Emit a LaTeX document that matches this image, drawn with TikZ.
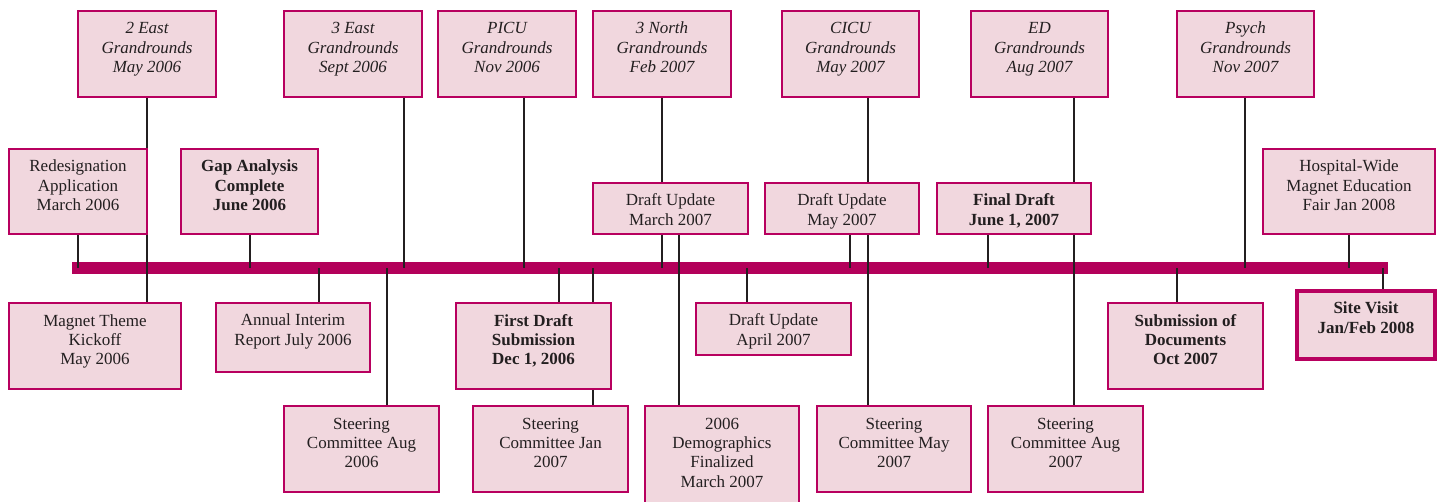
\documentclass[tikz,border=0pt]{standalone}
\usepackage{fontspec}
\setmainfont{Liberation Serif}
\definecolor{boxfill}{HTML}{F1D7DE}
\definecolor{boxedge}{HTML}{B8005F}
\definecolor{barcol}{HTML}{B3005A}
\definecolor{linecol}{HTML}{231F20}
\pgfdeclarelayer{barlayer}
\pgfdeclarelayer{linelayer}
\pgfsetlayers{barlayer,linelayer,main}
\tikzset{
  boxbase/.style={rectangle, fill=boxfill, draw=boxedge, inner sep=0pt, outer sep=0pt},
  plain/.style={line width=1.5pt},
  strong/.style={line width=2.2pt},
  heavy/.style={line width=3.6pt},
  txt/.style={inner sep=0pt, align=center, text=linecol, font=\fontsize{17}{19.4}\selectfont},
  rm/.style={txt},
  it/.style={txt, font=\fontsize{17}{19.4}\selectfont\itshape},
  bf/.style={txt, font=\fontsize{17}{19.4}\selectfont\bfseries},
  conn/.style={draw=linecol, line width=1.4pt},
  barstyle/.style={rectangle, fill=barcol, inner sep=0pt, outer sep=0pt}
}
% #1 name, #2 box style, #3 text style, #4 x1, #5 y1, #6 x2, #7 y2, #8 lines, #9 text
\newcommand\evbox[9]{%
  \node[boxbase,#2,minimum width={#6-#4},minimum height={#7-#5}] (#1) at ({(#4+#6)/2},{(#5+#7)/2}) {};
  \pgfmathsetmacro\evshift{23+(#8-1)*19.4}%
  \node[#3, anchor=base] (#1-t) at ([yshift=-\evshift pt]#1.north) {#9};
}
\begin{document}
\begin{tikzpicture}[x=1pt,y=-1pt]
\useasboundingbox (0,0) rectangle (1437,502);
\begin{pgfonlayer}{barlayer}
  \node[barstyle, minimum width=1316, minimum height=12] (bar) at (730,268) {};
\end{pgfonlayer}
% top row: grandrounds
\evbox{e2}{plain}{it}{78}{11}{216}{97}{3}{2 East\\Grandrounds\\May 2006}
\evbox{e3}{plain}{it}{284}{11}{422}{97}{3}{3 East\\Grandrounds\\Sept 2006}
\evbox{picu}{plain}{it}{438}{11}{576}{97}{3}{PICU\\Grandrounds\\Nov 2006}
\evbox{n3}{plain}{it}{593}{11}{731}{97}{3}{3 North\\Grandrounds\\Feb 2007}
\evbox{cicu}{plain}{it}{782}{11}{919}{97}{3}{CICU\\Grandrounds\\May 2007}
\evbox{ed}{plain}{it}{971}{11}{1108}{97}{3}{ED\\Grandrounds\\Aug 2007}
\evbox{ps}{plain}{it}{1177}{11}{1314}{97}{3}{Psych\\Grandrounds\\Nov 2007}
% second row above bar
\evbox{redes}{plain}{rm}{9}{149}{147}{234}{3}{Redesignation\\Application\\March 2006}
\evbox{gap}{strong}{bf}{181}{149}{318}{234}{3}{Gap Analysis\\Complete\\June 2006}
\evbox{dum}{plain}{rm}{593}{183}{748}{234}{2}{Draft Update\\March 2007}
\evbox{dumay}{plain}{rm}{765}{183}{919}{234}{2}{Draft Update\\May 2007}
\evbox{fin}{plain}{bf}{937}{183}{1091}{234}{2}{Final Draft\\June 1, 2007}
\evbox{hw}{plain}{rm}{1263}{149}{1435}{234}{3}{Hospital-Wide\\Magnet Education\\Fair Jan 2008}
% first row below bar
\evbox{kick}{plain}{rm}{9}{303}{181}{389}{3}{Magnet Theme\\Kickoff\\May 2006}
\evbox{ann}{plain}{rm}{216}{303}{370}{372}{2}{Annual Interim\\Report July 2006}
\evbox{fd}{plain}{bf}{456}{303}{611}{389}{3}{First Draft\\Submission\\Dec 1, 2006}
\evbox{dua}{plain}{rm}{696}{303}{851}{355}{2}{Draft Update\\April 2007}
\evbox{sub}{plain}{bf}{1108}{303}{1263}{389}{3}{Submission of\\Documents\\Oct 2007}
\evbox{sv}{heavy}{bf}{1297}{291}{1435}{359}{2}{Site Visit\\Jan/Feb 2008}
% second row below bar
\evbox{sa6}{plain}{rm}{284}{406}{439}{492}{3}{Steering\\Committee Aug\\2006}
\evbox{sj}{plain}{rm}{473}{406}{628}{492}{3}{Steering\\Committee Jan\\2007}
\evbox{demo}{plain}{rm}{645}{406}{799}{504}{4}{2006\\Demographics\\Finalized\\March 2007}
\evbox{sm}{plain}{rm}{817}{406}{971}{492}{3}{Steering\\Committee May\\2007}
\evbox{sa7}{plain}{rm}{988}{406}{1143}{492}{3}{Steering\\Committee Aug\\2007}
\begin{pgfonlayer}{linelayer}
  \draw[conn] (redes.south) -- (redes.south |- bar.center);
  \draw[conn] (e2.south) -- (e2.south |- kick.north);
  \draw[conn] ([xshift=0.5pt]gap.south) -- ([xshift=0.5pt]gap.south |- bar.center);
  \draw[conn] ([xshift=26pt]ann.north) -- ([xshift=26pt]ann.north |- bar.center);
  \draw[conn] ([xshift=51pt]e3.south) -- ([xshift=51pt]e3.south |- bar.center);
  \draw[conn] ([xshift=25.5pt]sa6.north) -- ([xshift=25.5pt]sa6.north |- bar.center);
  \draw[conn] ([xshift=17pt]picu.south) -- ([xshift=17pt]picu.south |- bar.center);
  \draw[conn] ([xshift=25.5pt]fd.north) -- ([xshift=25.5pt]fd.north |- bar.center);
  \draw[conn] ([xshift=42.5pt]sj.north) -- ([xshift=42.5pt]sj.north |- bar.center);
  \draw[conn] (n3.south) -- (n3.south |- bar.center);
  \draw[conn] ([xshift=8.5pt]dum.south) -- ([xshift=8.5pt]dum.south |- demo.north);
  \draw[conn] ([xshift=-26.5pt]dua.north) -- ([xshift=-26.5pt]dua.north |- bar.center);
  \draw[conn] ([xshift=17.5pt]cicu.south) -- ([xshift=17.5pt]cicu.south |- sm.north);
  \draw[conn] ([xshift=8pt]dumay.south) -- ([xshift=8pt]dumay.south |- bar.center);
  \draw[conn] ([xshift=-26pt]fin.south) -- ([xshift=-26pt]fin.south |- bar.center);
  \draw[conn] ([xshift=34.5pt]ed.south) -- ([xshift=34.5pt]ed.south |- sa7.north);
  \draw[conn] ([xshift=-8.5pt]sub.north) -- ([xshift=-8.5pt]sub.north |- bar.center);
  \draw[conn] ([xshift=-0.5pt]ps.south) -- ([xshift=-0.5pt]ps.south |- bar.center);
  \draw[conn] (hw.south) -- (hw.south |- bar.center);
  \draw[conn] ([xshift=17pt]sv.north) -- ([xshift=17pt]sv.north |- bar.center);
\end{pgfonlayer}
\end{tikzpicture}
\end{document}
